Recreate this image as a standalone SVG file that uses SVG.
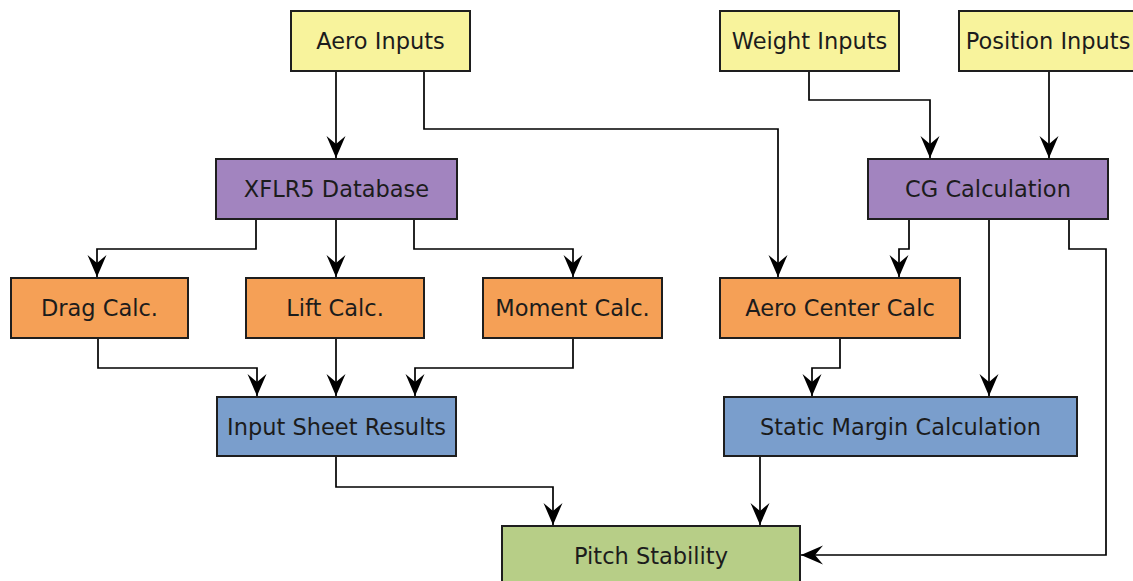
<svg xmlns="http://www.w3.org/2000/svg" width="1133" height="581" viewBox="0 0 1133 581">
  <defs>
    <marker id="arrow" markerUnits="userSpaceOnUse" markerWidth="26" markerHeight="22" viewBox="-24 -11 26 22" refX="0" refY="0" orient="auto">
      <path d="M0,0 L-22,-9.5 L-14,0 L-22,9.5 Z" fill="#000"/>
    </marker>
    <style>
      .box { stroke: #1e1e1e; stroke-width: 2; }
      .input { fill: #f8f39c; }
      .proc { fill: #a284bf; }
      .calc { fill: #f5a056; }
      .result { fill: #7a9ecc; }
      .final { fill: #b7ce87; }
      .label { font-family: "DejaVu Sans", "Liberation Sans", sans-serif; font-size: 22.5px; fill: #1c1c1c; text-anchor: middle; }
      .edge { fill: none; stroke: #000; stroke-width: 1.7; marker-end: url(#arrow); }
    </style>
  </defs>
  <rect width="1133" height="581" fill="#fff"/>

  <g id="connectors">
    <path class="edge" d="M336,71 V158"/>
    <path class="edge" d="M424,71 V129 H778 V277"/>
    <path class="edge" d="M809,71 V100 H930 V158"/>
    <path class="edge" d="M1049,71 V158"/>
    <path class="edge" d="M256,219 V249 H97 V277"/>
    <path class="edge" d="M336,219 V277"/>
    <path class="edge" d="M414,219 V249 H573 V277"/>
    <path class="edge" d="M909,219 V249 H899 V277"/>
    <path class="edge" d="M989,219 V396"/>
    <path class="edge" d="M1069,219 V249 H1106 V555 H801"/>
    <path class="edge" d="M98,338 V368 H257 V396"/>
    <path class="edge" d="M336,338 V396"/>
    <path class="edge" d="M573,338 V368 H415 V396"/>
    <path class="edge" d="M840,338 V368 H812 V396"/>
    <path class="edge" d="M336,456 V487 H553 V525"/>
    <path class="edge" d="M760,456 V525"/>
  </g>

  <g id="aero-inputs">
    <rect class="box input" x="291" y="11" width="179" height="60"/>
    <text class="label" x="380.5" y="49">Aero Inputs</text>
  </g>
  <g id="weight-inputs">
    <rect class="box input" x="720" y="11" width="179" height="60"/>
    <text class="label" x="809.5" y="49">Weight Inputs</text>
  </g>
  <g id="position-inputs">
    <rect class="box input" x="959" y="11" width="180" height="60"/>
    <text class="label" x="1048" y="49">Position Inputs</text>
  </g>

  <g id="xflr5-database">
    <rect class="box proc" x="216" y="159" width="241" height="60"/>
    <text class="label" x="336.5" y="197">XFLR5 Database</text>
  </g>
  <g id="cg-calculation">
    <rect class="box proc" x="868" y="159" width="240" height="60"/>
    <text class="label" x="988" y="197">CG Calculation</text>
  </g>

  <g id="drag-calc">
    <rect class="box calc" x="11" y="278" width="177" height="60"/>
    <text class="label" x="99.5" y="316">Drag Calc.</text>
  </g>
  <g id="lift-calc">
    <rect class="box calc" x="246" y="278" width="178" height="60"/>
    <text class="label" x="335" y="316">Lift Calc.</text>
  </g>
  <g id="moment-calc">
    <rect class="box calc" x="483" y="278" width="179" height="60"/>
    <text class="label" x="572.5" y="316">Moment Calc.</text>
  </g>
  <g id="aero-center-calc">
    <rect class="box calc" x="720" y="278" width="240" height="60"/>
    <text class="label" x="840" y="316">Aero Center Calc</text>
  </g>

  <g id="input-sheet-results">
    <rect class="box result" x="217" y="397" width="239" height="59"/>
    <text class="label" x="336.5" y="435">Input Sheet Results</text>
  </g>
  <g id="static-margin-calculation">
    <rect class="box result" x="724" y="397" width="353" height="59"/>
    <text class="label" x="900.5" y="435">Static Margin Calculation</text>
  </g>

  <g id="pitch-stability">
    <rect class="box final" x="502" y="526" width="298" height="62"/>
    <text class="label" x="651" y="564">Pitch Stability</text>
  </g>
</svg>
